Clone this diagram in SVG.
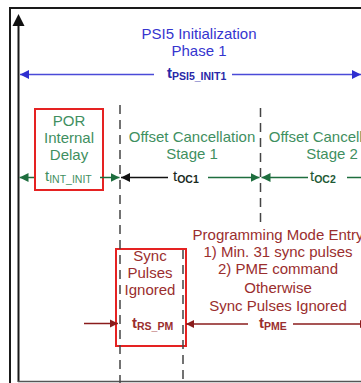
<svg xmlns="http://www.w3.org/2000/svg" width="361" height="383" viewBox="0 0 361 383">
<style>
text{font-family:"Liberation Sans",Arial,sans-serif;font-size:15px;text-anchor:middle}
.blue{fill:#3535cf}
.grn{fill:#3f8f5f}
.dred{fill:#9a2e2e}
.lab{text-anchor:start}
.sub{font-size:10.5px}
.b{font-weight:bold}
.box{fill:none;stroke:#e52222;stroke-width:2}
.dash{stroke:#444;stroke-width:1.5;stroke-dasharray:9,6;fill:none}
.frame{stroke:#1a1a1a;stroke-width:2;fill:none}
</style>
<defs>
<marker id="mb" viewBox="0 0 10 10" refX="10" refY="5" markerWidth="9" markerHeight="10" markerUnits="userSpaceOnUse" orient="auto"><path d="M0,0L10,5L0,10z" fill="#2f2fd0"/></marker>
<marker id="mg" viewBox="0 0 10 10" refX="10" refY="5" markerWidth="9" markerHeight="9" markerUnits="userSpaceOnUse" orient="auto"><path d="M0,0L10,5L0,10z" fill="#1e6e3e"/></marker>
<marker id="mk" viewBox="0 0 10 10" refX="10" refY="5" markerWidth="9" markerHeight="9" markerUnits="userSpaceOnUse" orient="auto"><path d="M0,0L10,5L0,10z" fill="#111"/></marker>
<marker id="mr" viewBox="0 0 10 10" refX="10" refY="5" markerWidth="8" markerHeight="9" markerUnits="userSpaceOnUse" orient="auto"><path d="M0,0L10,5L0,10z" fill="#8a1c1c"/></marker>
</defs>
<rect width="361" height="383" fill="#fff"/>
<g id="frame">
<line class="frame" x1="9" y1="8" x2="361" y2="8"/>
<line class="frame" x1="10" y1="8" x2="10" y2="383"/>
<line class="frame" x1="18.5" y1="24" x2="18.5" y2="382"/>
<polygon points="12.5,26 18.5,14 24.5,26" fill="#111"/>
<line x1="18" y1="381.5" x2="361" y2="381.5" stroke="#555" stroke-width="1.5"/>
</g>
<g id="phase1">
<text class="blue" x="199" y="39">PSI5 Initialization</text>
<text class="blue" x="199" y="56">Phase 1</text>
<text class="lab b" x="167" y="78" fill="#2828a8" font-size="14">t<tspan class="sub" dy="2">PSI5_INIT1</tspan></text>
</g>
<g id="por">
<rect class="box" x="35" y="109" width="68" height="81"/>
<text class="grn" x="69" y="126">POR</text>
<text class="grn" x="69" y="143">Internal</text>
<text class="grn" x="69" y="160">Delay</text>
<text class="lab grn" x="45" y="181">t<tspan class="sub" dy="2">INT_INIT</tspan></text>
</g>
<g id="stage1">
<text class="grn" x="192" y="142">Offset Cancellation</text>
<text class="grn" x="192" y="159">Stage 1</text>
<text class="lab" x="173" y="181" fill="#1a2a1e">t<tspan class="sub b" dy="2">OC1</tspan></text>
</g>
<g id="stage2">
<text class="grn" x="332" y="142">Offset Cancellation</text>
<text class="grn" x="332" y="159">Stage 2</text>
<text class="lab" x="310" y="181" fill="#1e5a36">t<tspan class="sub b" dy="2">OC2</tspan></text>
</g>
<g id="sync">
<rect class="box" x="116" y="249" width="70" height="97"/>
<text class="dred" x="150" y="261">Sync</text>
<text class="dred" x="150" y="278">Pulses</text>
<text class="dred" x="150" y="295">Ignored</text>
<text class="lab b dred" x="132" y="328" font-size="14">t<tspan class="sub" dy="2">RS_PM</tspan></text>
</g>
<g id="pme">
<text class="dred" x="278" y="240">Programming Mode Entry</text>
<text class="dred" x="278" y="257">1) Min. 31 sync pulses</text>
<text class="dred" x="278" y="274">2) PME command</text>
<text class="dred" x="278" y="293">Otherwise</text>
<text class="dred" x="278" y="311">Sync Pulses Ignored</text>
<text class="lab b dred" x="259" y="328" font-size="14">t<tspan class="sub" dy="2">PME</tspan></text>
</g>
<g id="connectors">
<line class="dash" x1="120" y1="105" x2="120" y2="383"/>
<line class="dash" x1="260.5" y1="108" x2="260.5" y2="228"/>
<line class="dash" x1="183" y1="250" x2="183" y2="383"/>
<line x1="154" y1="74.5" x2="20" y2="74.5" stroke="#4a4ad8" stroke-width="1.5" marker-end="url(#mb)"/>
<line x1="232" y1="74.5" x2="361" y2="74.5" stroke="#4a4ad8" stroke-width="1.5" marker-end="url(#mb)"/>
<line x1="34" y1="177.5" x2="19.5" y2="177.5" stroke="#1e6e3e" stroke-width="1.5" marker-end="url(#mg)"/>
<line x1="100" y1="177.5" x2="119.5" y2="177.5" stroke="#1e6e3e" stroke-width="1.5" marker-end="url(#mg)"/>
<line x1="168" y1="177.5" x2="121" y2="177.5" stroke="#111" stroke-width="1.5" marker-end="url(#mk)"/>
<line x1="208" y1="177.5" x2="259.5" y2="177.5" stroke="#1e6e3e" stroke-width="1.5" marker-end="url(#mg)"/>
<line x1="308" y1="177.5" x2="261.5" y2="177.5" stroke="#1e6e3e" stroke-width="1.5" marker-end="url(#mg)"/>
<line x1="347" y1="177.5" x2="361" y2="177.5" stroke="#1e6e3e" stroke-width="1.5"/>
<line x1="84" y1="323.5" x2="118" y2="323.5" stroke="#8a1c1c" stroke-width="1.5" marker-end="url(#mr)"/>
<line x1="248" y1="324" x2="186" y2="324" stroke="#8a1c1c" stroke-width="1.5" marker-end="url(#mr)"/>
<line x1="293" y1="324" x2="368" y2="324" stroke="#8a1c1c" stroke-width="1.5" marker-end="url(#mr)"/>
</g>
</svg>
